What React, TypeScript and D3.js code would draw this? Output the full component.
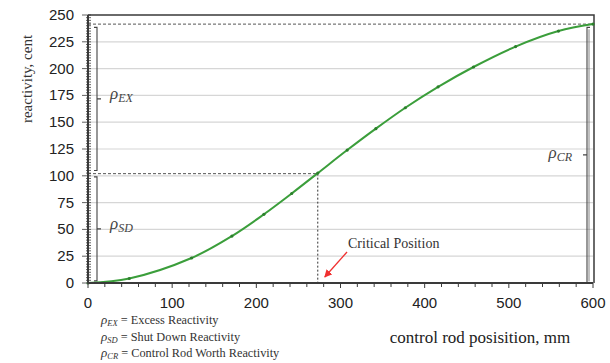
import * as d3 from 'd3';

// rod position (mm) vs integral reactivity (cent)
const POS = [0, 49, 123, 171, 209, 242, 273, 308, 342, 377, 416, 458, 508, 559, 600];
const RHO = [0, 4.2, 23.3, 43.8, 64.1, 83.5, 102.5, 124, 144, 163.5, 183, 201.5, 220.5, 235, 241.5];

const X_TICKS = [0, 100, 200, 300, 400, 500, 600];
const Y_TICKS = [0, 25, 50, 75, 100, 125, 150, 175, 200, 225, 250];

const CRITICAL_POS = 273;
const CRITICAL_RHO = 102;
const MAX_RHO = 241.5;

const LEGEND = [
  ['EX', 'Excess Reactivity'],
  ['SD', 'Shut Down Reactivity'],
  ['CR', 'Control Rod Worth Reactivity'],
];

const W = 610;
const H = 363;
const SERIF = '"Liberation Serif", "Times New Roman", serif';
const SANS = '"Liberation Sans", Arial, sans-serif';
const AXIS = '#3a3a3a';

export default function App() {
  const x = d3.scaleLinear().domain([0, 600]).range([88, 593]);
  const y = d3.scaleLinear().domain([0, 250]).range([283, 15]);

  const line = d3.line<number>()
    .x((_, i) => x(POS[i]))
    .y(d => y(d))
    .curve(d3.curveCatmullRom.alpha(0.5));

  const xMinor = d3.range(0, 601, 20);
  const yMinor = d3.range(0, 250.1, 2.5);

  const leftX = x(0) + 9;
  const rightX = x(600) - 6;

  // bracket: vertical line with end hooks and a nub at the middle
  const bracket = (bx: number, lo: number, hi: number, dir: number) => {
    const y0 = y(lo);
    const y1 = y(hi);
    const ym = (y0 + y1) / 2;
    return {
      d: `M${bx + 3 * dir},${y1}H${bx}V${y0}H${bx + 3 * dir}M${bx},${ym}H${bx - 4 * dir}`,
      ym,
    };
  };

  const ex = bracket(leftX, CRITICAL_RHO + 3, MAX_RHO - 3, -1);
  const sd = bracket(leftX, 2, CRITICAL_RHO - 3, -1);
  const cr = bracket(rightX, 0.5, MAX_RHO - 3, 1);

  const rhoLabel = (lx: number, ly: number, sub: string, anchor: string) => (
    <text x={lx} y={ly} fontFamily={SERIF} fontStyle="italic" fill="#444" textAnchor={anchor}>
      <tspan fontSize={17}>ρ</tspan>
      <tspan fontSize={12} dy={3}>{sub}</tspan>
    </text>
  );

  return (
    <svg width={W} height={H} style={{ position: 'absolute', left: 0, top: 0, background: '#fff' }}>
      {/* grid */}
      {Y_TICKS.filter(t => t > 0 && t < 250).map(t => (
        <line key={t} x1={x(0)} x2={x(600)} y1={y(t)} y2={y(t)} stroke="#d6d6d6" strokeWidth={1.2} />
      ))}

      {/* frame */}
      <path d={`M${x(0)},${y(250)}H${x(600) + 1}V${y(0)}`} fill="none" stroke={AXIS} strokeWidth={1.5} />

      {/* dashed guides */}
      <line x1={x(0)} x2={x(600)} y1={y(MAX_RHO)} y2={y(MAX_RHO)} stroke="#555" strokeDasharray="3,2" />
      <line x1={x(0)} x2={x(CRITICAL_POS)} y1={y(CRITICAL_RHO)} y2={y(CRITICAL_RHO)} stroke="#555" strokeDasharray="3,2" />
      <line x1={x(CRITICAL_POS)} x2={x(CRITICAL_POS)} y1={y(CRITICAL_RHO)} y2={y(0)} stroke="#333" strokeDasharray="2,2" />

      {/* brackets */}
      <path d={ex.d} fill="none" stroke="#444" strokeWidth={1.1} />
      <path d={sd.d} fill="none" stroke="#444" strokeWidth={1.1} />
      <path d={cr.d} fill="none" stroke="#444" strokeWidth={1.1} />
      <line x1={rightX + 2} x2={rightX + 2} y1={y(MAX_RHO - 3) + 2} y2={y(0.5) - 1} stroke="#666" strokeWidth={0.8} />

      {rhoLabel(leftX + 13, ex.ym, 'EX', 'start')}
      {rhoLabel(leftX + 13, sd.ym, 'SD', 'start')}
      {rhoLabel(rightX - 15, cr.ym + 3, 'CR', 'end')}

      {/* curve */}
      <path d={line(RHO) ?? ''} fill="none" stroke="#3b9e3b" strokeWidth={2} />
      {RHO.map((v, i) => (
        <circle key={i} cx={x(POS[i])} cy={y(v)} r={1.6} fill="#2b7f2b" />
      ))}

      {/* axes */}
      <line x1={x(0)} x2={x(600)} y1={y(0)} y2={y(0)} stroke={AXIS} strokeWidth={2} />
      <line x1={x(0)} x2={x(0)} y1={y(0)} y2={y(250)} stroke={AXIS} strokeWidth={2} />
      {xMinor.map(t => (
        <line key={t} x1={x(t)} x2={x(t)} y1={y(0)} y2={y(0) + (t % 100 === 0 ? 5 : 4)} stroke={AXIS} strokeWidth={1} />
      ))}
      {yMinor.map(t => (
        <line key={t} x1={x(0) - (t % 25 === 0 ? 6 : 2)} x2={x(0) + 3} y1={y(t)} y2={y(t)} stroke={AXIS} strokeWidth={0.8} />
      ))}
      {X_TICKS.map(t => (
        <text key={t} x={x(t)} y={y(0) + 25} fontFamily={SANS} fontSize={15} fill="#222" textAnchor="middle">{t}</text>
      ))}
      {Y_TICKS.map(t => (
        <text key={t} x={x(0) - 14} y={y(t) + 5} fontFamily={SANS} fontSize={15} fill="#222" textAnchor="end">{t}</text>
      ))}

      {/* axis titles */}
      <text transform="translate(32,79) rotate(-90)" fontFamily={SERIF} fontSize={15} fill="#333" textAnchor="middle">reactivity, cent</text>
      <text x={480} y={343} fontFamily={SERIF} fontSize={17} fill="#222" textAnchor="middle">control rod posisition, mm</text>

      {/* critical position annotation */}
      <text x={348} y={248} fontFamily={SERIF} fontSize={14} fill="#333">Critical Position</text>
      <defs>
        <marker id="arr" viewBox="0 0 10 10" refX={9} refY={5} markerWidth={6} markerHeight={6} orient="auto">
          <path d="M0,0L10,5L0,10z" fill="#f03030" />
        </marker>
      </defs>
      <line x1={347} y1={252} x2={x(CRITICAL_POS) + 7} y2={y(0) - 6} stroke="#f03030" strokeWidth={1.3} markerEnd="url(#arr)" />

      {/* legend */}
      {LEGEND.map(([sub, label], i) => (
        <text key={sub} x={101} y={324 + i * 16.5} fontFamily={SERIF} fontSize={12.3} fill="#333">
          <tspan fontStyle="italic" fontSize={13}>ρ</tspan>
          <tspan fontStyle="italic" fontSize={8.5} dy={2}>{sub}</tspan>
          <tspan dy={-2}> = {label}</tspan>
        </text>
      ))}
    </svg>
  );
}
